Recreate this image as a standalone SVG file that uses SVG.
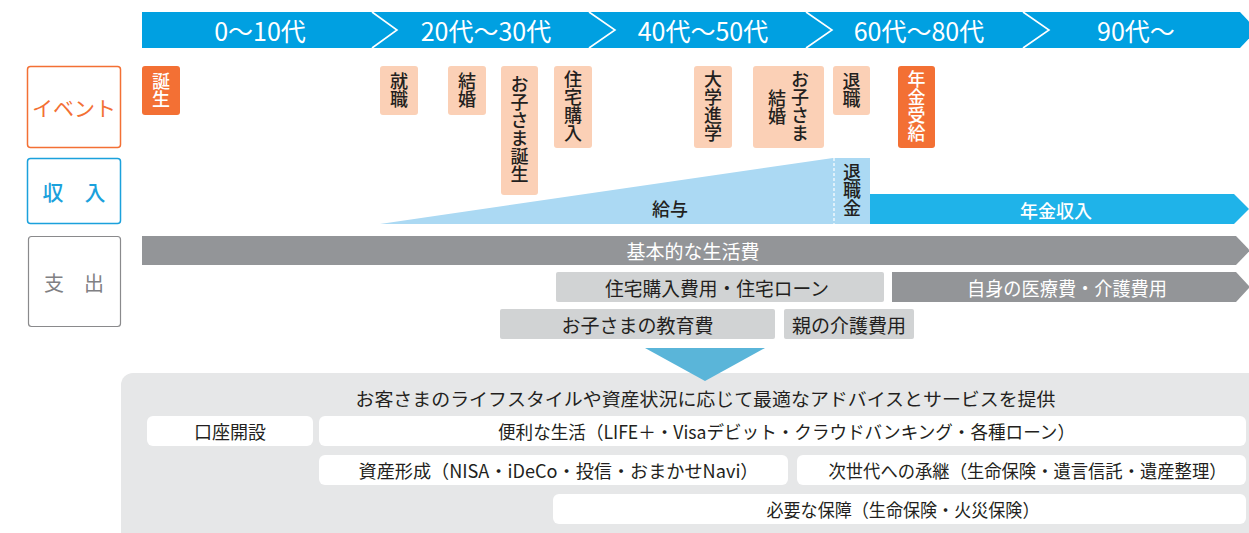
<svg xmlns="http://www.w3.org/2000/svg" width="1249" height="533" viewBox="0 0 1249 533">
<style>
text{font-family:"Noto Sans CJK JP","Noto Sans",sans-serif;dominant-baseline:central;text-anchor:middle}
.age{fill:#fff;font-size:25px}
.chev{fill:none;stroke:#fff;stroke-width:1.6}
.v{writing-mode:vertical-rl;font-size:18px;font-weight:500}
.ev{fill:#231f20}
.evw{fill:#fff}
.peach{fill:#fbd0b6}
.orange{fill:#f37034}
.exp{font-size:19px}
.dk{fill:#231f20}
.wt{fill:#fff}
.svc{font-size:18px;fill:#231f20}
.box{fill:#fff}
</style>
<rect width="1249" height="533" fill="#fff"/>

<g id="age-bar">
<polygon points="142,12 1240,12 1257,30 1240,48 142,48" fill="#00a0e1"/>
<polyline class="chev" points="372,12 397,30 372,48"/>
<polyline class="chev" points="589,12 615,30 589,48"/>
<polyline class="chev" points="806,12 832,30 806,48"/>
<polyline class="chev" points="1023,12 1049,30 1023,48"/>
<text class="age" x="260" y="30">0〜10代</text>
<text class="age" x="486" y="30">20代〜30代</text>
<text class="age" x="703" y="30">40代〜50代</text>
<text class="age" x="919" y="30">60代〜80代</text>
<text class="age" x="1136" y="30">90代〜</text>
</g>

<g id="label-event">
<rect x="27.5" y="66.5" width="93" height="81" rx="3" fill="#fff" stroke="#f37034" stroke-width="1.5"/>
<text x="74" y="107" style="font-size:21px;fill:#f37034">イベント</text>
</g>
<g id="label-income">
<rect x="27.5" y="158.5" width="93" height="65" rx="3" fill="#fff" stroke="#1ba1dc" stroke-width="1.5"/>
<text x="74" y="191" style="font-size:21px;fill:#1ba1dc;font-weight:500">収　入</text>
</g>
<g id="label-expense">
<rect x="28.5" y="236.5" width="92" height="90" rx="3" fill="#fff" stroke="#8a8a8c" stroke-width="1.2"/>
<text x="74" y="282" style="font-size:20px;fill:#808083">支　出</text>
</g>

<g id="ev-birth">
<rect class="orange" x="142" y="66" width="38" height="49" rx="3"/>
<text class="v evw" x="161" y="90">誕生</text>
</g>
<g id="ev-job">
<rect class="peach" x="380" y="66" width="38" height="49" rx="3"/>
<text class="v ev" x="399" y="90">就職</text>
</g>
<g id="ev-marriage">
<rect class="peach" x="448" y="66" width="38" height="49" rx="3"/>
<text class="v ev" x="467" y="90">結婚</text>
</g>
<g id="ev-childbirth">
<rect class="peach" x="501" y="66" width="37" height="129" rx="3"/>
<text class="v ev" x="519.5" y="129">お子さま誕生</text>
</g>
<g id="ev-house">
<rect class="peach" x="554" y="66" width="38" height="82" rx="3"/>
<text class="v ev" x="573" y="106">住宅購入</text>
</g>
<g id="ev-college">
<rect class="peach" x="694" y="66" width="38" height="82" rx="3"/>
<text class="v ev" x="713" y="106">大学進学</text>
</g>
<g id="ev-childmarriage">
<rect class="peach" x="753" y="66" width="71" height="82" rx="3"/>
<text class="v ev" x="800" y="106">お子さま</text>
<text class="v ev" x="777" y="107">結婚</text>
</g>
<g id="ev-retire">
<rect class="peach" x="833" y="66" width="37" height="49" rx="3"/>
<text class="v ev" x="851.5" y="90">退職</text>
</g>
<g id="ev-pension">
<rect class="orange" x="898" y="66" width="37" height="82" rx="3"/>
<text class="v evw" x="916.5" y="106">年金受給</text>
</g>

<g id="inc-salary">
<polygon points="380,224 833,158 833,224" fill="#abd9f3"/>
<text x="670" y="208" style="font-size:18px;fill:#231f20;font-weight:500">給与</text>
</g>
<g id="inc-severance">
<rect x="833" y="158" width="37" height="66" fill="#abd9f3"/>
<line x1="834" y1="158" x2="834" y2="224" stroke="#fff" stroke-width="1.2" stroke-dasharray="3,2"/>
<text class="v ev" x="852" y="190">退職金</text>
</g>
<g id="inc-pension">
<polygon points="870,194 1234,194 1249,209 1234,224 870,224" fill="#1fb3e9"/>
<text x="1056" y="209.5" style="font-size:18px;fill:#fff;font-weight:500">年金収入</text>
</g>

<g id="exp-living">
<polygon points="142,236 1236,236 1250,250.5 1236,265 142,265" fill="#939598"/>
<text class="exp wt" x="693" y="250.5">基本的な生活費</text>
</g>
<g id="exp-house">
<rect x="556" y="272" width="328" height="30" rx="2" fill="#d1d3d4"/>
<text class="exp dk" x="717" y="287" textLength="224" lengthAdjust="spacingAndGlyphs">住宅購入費用・住宅ローン</text>
</g>
<g id="exp-medical">
<polygon points="892,272 1236,272 1250,287 1236,302 892,302" fill="#939598"/>
<text class="exp wt" x="1067" y="287" textLength="200" lengthAdjust="spacingAndGlyphs">自身の医療費・介護費用</text>
</g>
<g id="exp-education">
<rect x="500" y="309" width="275" height="30" rx="2" fill="#d1d3d4"/>
<text class="exp dk" x="637.5" y="324">お子さまの教育費</text>
</g>
<g id="exp-care">
<rect x="784" y="309" width="130" height="30" rx="2" fill="#d1d3d4"/>
<text class="exp dk" x="849" y="324">親の介護費用</text>
</g>

<g id="services">
<rect x="121" y="373" width="1150" height="180" rx="12" fill="#e6e7e8"/>
<text class="svc" x="705.5" y="398" textLength="700" lengthAdjust="spacingAndGlyphs">お客さまのライフスタイルや資産状況に応じて最適なアドバイスとサービスを提供</text>
</g>
<g id="connectors">
<polygon points="645,348 765,348 705,381" fill="#5ab5d9"/>
</g>
<g id="svc-account">
<rect class="box" x="147" y="416" width="166" height="30" rx="6"/>
<text class="svc" x="230" y="431">口座開設</text>
</g>
<g id="svc-life">
<rect class="box" x="319" y="416" width="927" height="30" rx="6"/>
<text class="svc" x="786.5" y="431" textLength="577" lengthAdjust="spacingAndGlyphs">便利な生活（LIFE＋・Visaデビット・クラウドバンキング・各種ローン）</text>
</g>
<g id="svc-asset">
<rect class="box" x="319" y="455" width="469" height="30" rx="6"/>
<text class="svc" x="558.5" y="470" textLength="400" lengthAdjust="spacingAndGlyphs">資産形成（NISA・iDeCo・投信・おまかせNavi）</text>
</g>
<g id="svc-inherit">
<rect class="box" x="797" y="455" width="449" height="30" rx="6"/>
<text class="svc" x="1027.5" y="470" textLength="398" lengthAdjust="spacingAndGlyphs">次世代への承継（生命保険・遺言信託・遺産整理）</text>
</g>
<g id="svc-insurance">
<rect class="box" x="553" y="494" width="693" height="30" rx="6"/>
<text class="svc" x="903" y="509" textLength="273" lengthAdjust="spacingAndGlyphs">必要な保障（生命保険・火災保険）</text>
</g>
</svg>
